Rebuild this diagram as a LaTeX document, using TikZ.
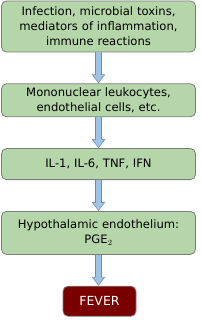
\documentclass[tikz,border=0pt]{standalone}
\usepackage{fontspec}
\setmainfont{DejaVu Sans}
\usepackage{tikz}
\usepackage{xcolor}
\usetikzlibrary{arrows.meta, positioning}
\definecolor{boxgreen}{RGB}{181,214,168}
\definecolor{boxedge}{RGB}{125,125,125}
\definecolor{feverred}{RGB}{122,0,0}
\definecolor{arrowblue}{RGB}{157,195,230}
\definecolor{arrowedge}{RGB}{110,140,175}
\tikzset{
  stage/.style={rectangle, draw=boxedge, fill=boxgreen, line width=0.8pt,
                text width=190pt, align=center, rounded corners=5pt,
                inner sep=2pt},
  result/.style={rectangle, draw=boxedge, fill=feverred, text=white,
                 line width=0.8pt, minimum width=73pt, minimum height=30pt,
                 rounded corners=5pt, font=\fontsize{12.5}{14}\selectfont},
  flowedge/.style={line width=7pt, draw=arrowedge,
                   -{Triangle[length=9pt, width=13pt]}},
  flowfill/.style={line width=5pt, draw=arrowblue, shorten >=1pt,
                   -{Triangle[length=7.5pt, width=10.5pt]}},
}

\begin{document}
\begin{tikzpicture}[node distance=31pt, font=\fontsize{11.6}{15}\selectfont]
  \useasboundingbox (0,0) rectangle (200pt,-320pt);
  \node[stage, minimum height=51pt] (infect) at (98.5pt,-26.5pt)
    {Infection, microbial toxins,\\mediators of inflammation,\\immune reactions};
  \node[stage, below=of infect, minimum height=33pt] (cells)
    {Mononuclear leukocytes,\\endothelial cells, etc.};
  \node[stage, below=of cells,  minimum height=31pt] (cyto)
    {IL-1, IL-6, TNF, IFN};
  \node[stage, below=of cyto,   minimum height=43pt] (hypo)
    {Hypothalamic endothelium:\\PGE$_2$};
  \node[result, below=of hypo, xshift=1pt] (fever) {FEVER};

  \foreach \a/\b in {infect/cells, cells/cyto, cyto/hypo, hypo/fever} {
    \draw[flowedge] (\a.south) -- (\a.south |- \b.north);
    \draw[flowfill] (\a.south) -- (\a.south |- \b.north);
  }
\end{tikzpicture}
\end{document}
